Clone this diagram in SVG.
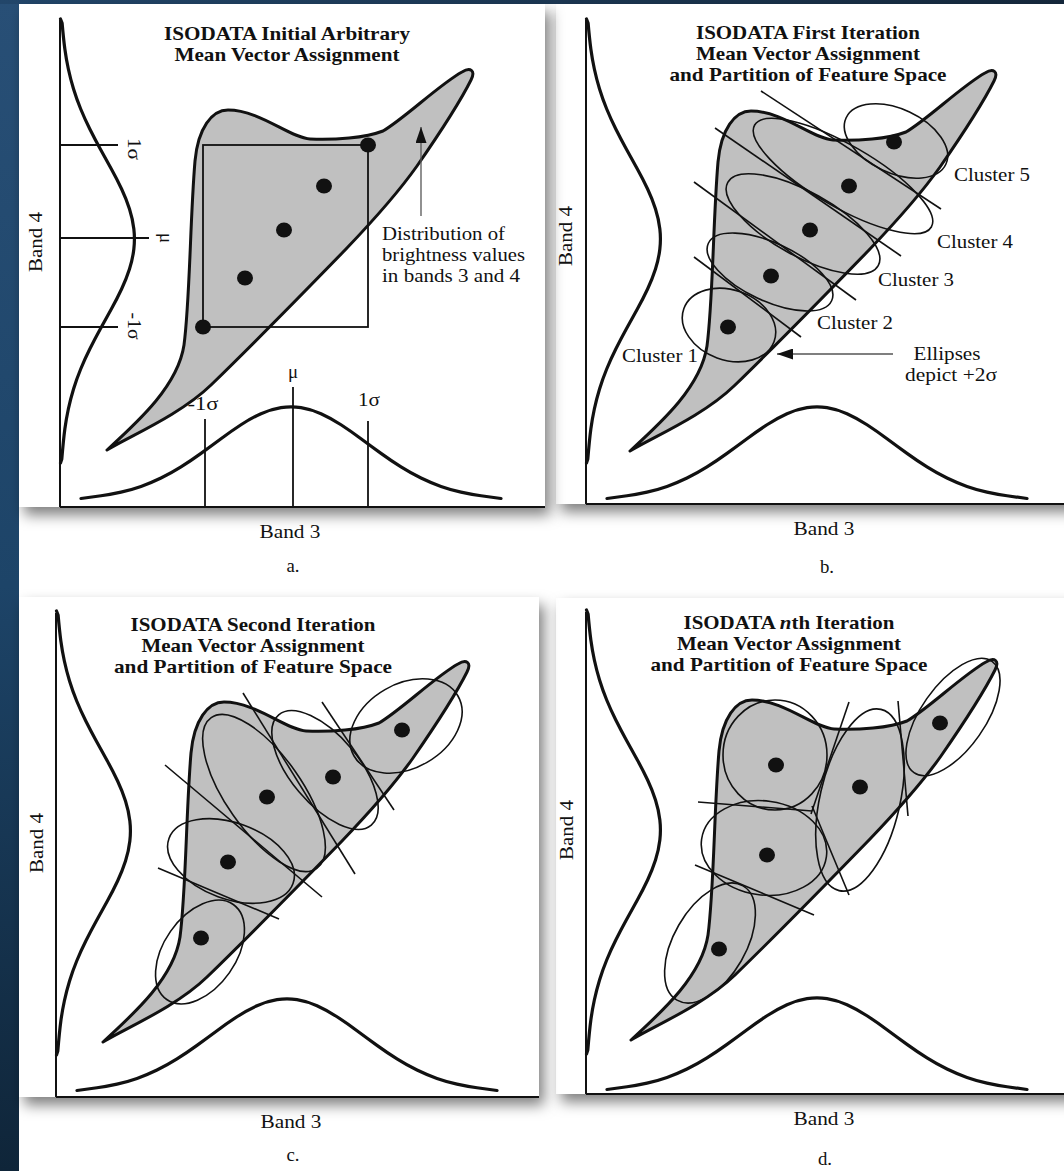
<svg xmlns="http://www.w3.org/2000/svg" width="1064" height="1171" viewBox="0 0 1064 1171">
<defs>
  <linearGradient id="strip" x1="0" y1="0" x2="0" y2="1">
    <stop offset="0" stop-color="#284f76"/>
    <stop offset="0.5" stop-color="#1d4468"/>
    <stop offset="1" stop-color="#0f2539"/>
  </linearGradient>
  <linearGradient id="topstrip" x1="0" y1="0" x2="1" y2="0">
    <stop offset="0" stop-color="#22466a"/>
    <stop offset="1" stop-color="#15283c"/>
  </linearGradient>
  <filter id="shadow" x="-10%" y="-10%" width="125%" height="125%">
    <feDropShadow dx="5" dy="8" stdDeviation="7" flood-color="#000" flood-opacity="0.5"/>
  </filter>
  <marker id="ah" viewBox="0 0 16 11" refX="16" refY="5.5" markerWidth="16" markerHeight="11" markerUnits="userSpaceOnUse" orient="auto">
    <path d="M0,0 L16,5.5 L0,11 Z" fill="#111"/>
  </marker>
  <path id="blob" class="blob" d="M107,450 C130,436 180,415 211,385 C245,352 312,284 346,249 C368,226 400,190 417,166 C435,140 460,102 471,80 C476,70 470,67 462,72 C440,84 405,118 383,131 C365,138 335,140 310,139 C290,138 260,110 228,110 C212,110 198,128 195,161 C190,220 190,300 184,345 C178,385 140,420 107,450 Z"/>
  <path id="bellL" class="bell" d="M60.5,19 L62.1,23 Q63.5,39 64.85,49 Q66.2,59 68.35,69 Q70.5,79 73.55,89 Q76.6,99 80.7,109 Q84.8,119 89.8,129 Q94.8,139 100.3,149 Q105.8,159 111.35,169 Q116.9,179 121.6,189 Q126.3,199 129.5,209 Q132.7,219 133.85,229 Q135,239 133.85,249 Q132.7,259 129.5,269 Q126.3,279 121.6,289 Q116.9,299 111.35,309 Q105.8,319 100.3,329 Q94.8,339 89.8,349 Q84.8,359 80.7,369 Q76.6,379 73.55,389 Q70.5,399 68.35,409 Q66.2,419 64.85,429 Q63.5,439 61.8,459 L60.5,463"/>
  <path id="bellB" class="bell" d="M81,498.5 Q91,497.1 101,495.75 Q111,494.4 121,492.15 Q131,489.9 141,486.4 Q151,482.9 161,478 Q171,473.1 181,466.85 Q191,460.6 201,453.35 Q211,446.1 221,438.7 Q231,431.3 241,424.75 Q251,418.2 261,413.7 Q271,409.2 281,407.6 Q291,406 301,407.6 Q311,409.2 321,413.7 Q331,418.2 341,424.75 Q351,431.3 361,438.7 Q371,446.1 381,453.35 Q391,460.6 401,466.85 Q411,473.1 421,478 Q431,482.9 441,486.4 Q451,489.9 461,492.15 Q471,494.4 481,495.75 Q491,497.1 501,498.5"/>
</defs>
<style>
  .ax{stroke:#111;stroke-width:2;fill:none}
  .tick{stroke:#111;stroke-width:1.8;fill:none}
  .bell{stroke:#111;stroke-width:3.2;fill:none;stroke-linecap:round;stroke-linejoin:round}
  .blob{fill:#c0c0c0;stroke:#111;stroke-width:3;stroke-linejoin:round}
  .ell{fill:none;stroke:#111;stroke-width:1.6}
  .sep{stroke:#111;stroke-width:1.6;fill:none}
  .dot{fill:#111}
  .panel{fill:#fff;filter:url(#shadow)}
  .conn{stroke:#555;stroke-width:1.3;fill:none}
  text{font-family:"Liberation Serif","Times New Roman",serif;fill:#111;font-size:18.8px}
  .title{font-weight:bold;text-anchor:middle}
  .mid{text-anchor:middle}
</style>

<g id="background">
  <rect x="0" y="0" width="1064" height="1171" fill="#fff"/>
  <rect x="0" y="0" width="19" height="1171" fill="url(#strip)"/>
  <rect x="0" y="0" width="1064" height="4" fill="url(#topstrip)"/>
</g>

<g id="panel-frames">
  <rect class="panel" x="556" y="4" width="530" height="500"/>
  <rect class="panel" x="556" y="598" width="530" height="496"/>
  <rect class="panel" x="19" y="4" width="526" height="503"/>
  <rect class="panel" x="19" y="597" width="520" height="500"/>
</g>

<g id="panel-a">
  <use href="#blob"/>
  <rect x="203" y="145" width="165" height="182" class="tick"/>
  <g id="a-axes">
    <line class="ax" x1="60" y1="20" x2="60" y2="507"/>
    <line class="ax" x1="60" y1="507" x2="545" y2="507"/>
    <use href="#bellL"/>
    <use href="#bellB"/>
    <line class="tick" x1="60" y1="145" x2="118" y2="145"/>
    <line class="tick" x1="60" y1="238" x2="149" y2="238"/>
    <line class="tick" x1="60" y1="327" x2="118" y2="327"/>
    <line class="tick" x1="205" y1="419" x2="205" y2="507"/>
    <line class="tick" x1="293" y1="387" x2="293" y2="507"/>
    <line class="tick" x1="368" y1="421" x2="368" y2="507"/>
  </g>
  <g id="a-dots">
    <ellipse class="dot" cx="203" cy="327" rx="8" ry="7.5"/>
    <ellipse class="dot" cx="245" cy="278" rx="8" ry="7.5"/>
    <ellipse class="dot" cx="284" cy="230" rx="8" ry="7.5"/>
    <ellipse class="dot" cx="324" cy="186" rx="8" ry="7.5"/>
    <ellipse class="dot" cx="368" cy="145" rx="8" ry="7.5"/>
  </g>
  <g id="a-labels">
    <text class="title" x="287" y="40" textLength="246" lengthAdjust="spacingAndGlyphs">ISODATA Initial Arbitrary</text>
    <text class="title" x="287" y="61" textLength="225" lengthAdjust="spacingAndGlyphs">Mean Vector Assignment</text>
    <text class="mid" transform="translate(42,242) rotate(-90)" textLength="60" lengthAdjust="spacingAndGlyphs">Band 4</text>
    <text class="mid" x="290" y="538" textLength="61" lengthAdjust="spacingAndGlyphs">Band 3</text>
    <text class="mid" x="293" y="572">a.</text>
    <text class="mid" transform="translate(128,149) rotate(90)" textLength="22" lengthAdjust="spacingAndGlyphs">1σ</text>
    <text class="mid" transform="translate(160,238) rotate(90)">μ</text>
    <text class="mid" transform="translate(128,326) rotate(90)" textLength="27" lengthAdjust="spacingAndGlyphs">-1σ</text>
    <text class="mid" x="203" y="410" textLength="31" lengthAdjust="spacingAndGlyphs">-1σ</text>
    <text class="mid" x="293" y="378">μ</text>
    <text class="mid" x="369" y="406" textLength="22" lengthAdjust="spacingAndGlyphs">1σ</text>
    <text x="382" y="240" textLength="123" lengthAdjust="spacingAndGlyphs">Distribution of</text>
    <text x="382" y="261" textLength="143" lengthAdjust="spacingAndGlyphs">brightness values</text>
    <text x="382" y="282" textLength="138" lengthAdjust="spacingAndGlyphs">in bands 3 and 4</text>
  </g>
</g>

<g id="panel-b">
  <use href="#blob" transform="translate(523,1)"/>
  <g id="b-axes">
    <line class="ax" x1="586" y1="20" x2="586" y2="504"/>
    <line class="ax" x1="586" y1="504" x2="1064" y2="504"/>
    <use href="#bellL" transform="translate(526,0)"/>
    <use href="#bellB" transform="translate(526,0)"/>
  </g>
  <g id="b-clusters">
    <ellipse class="ell" cx="729" cy="325" rx="48" ry="35" transform="rotate(20 729 325)"/>
    <ellipse class="ell" cx="770" cy="272" rx="68" ry="29" transform="rotate(25 770 272)"/>
    <ellipse class="ell" cx="803" cy="224" rx="86" ry="32" transform="rotate(29 803 224)"/>
    <ellipse class="ell" cx="843" cy="176" rx="102" ry="31" transform="rotate(30 843 176)"/>
    <ellipse class="ell" cx="896" cy="141" rx="55" ry="32" transform="rotate(25 896 141)"/>
    <line class="sep" x1="761" y1="91" x2="941" y2="209"/>
    <line class="sep" x1="715" y1="128" x2="901" y2="256"/>
    <line class="sep" x1="694" y1="182" x2="856" y2="300"/>
    <line class="sep" x1="694" y1="257" x2="801" y2="337"/>
    <ellipse class="dot" cx="728" cy="327" rx="8" ry="7.5"/>
    <ellipse class="dot" cx="771" cy="276" rx="8" ry="7.5"/>
    <ellipse class="dot" cx="810" cy="230" rx="8" ry="7.5"/>
    <ellipse class="dot" cx="849" cy="186" rx="8" ry="7.5"/>
    <ellipse class="dot" cx="894" cy="142" rx="8" ry="7.5"/>
  </g>
  <g id="b-labels">
    <text class="title" x="808" y="39" textLength="224" lengthAdjust="spacingAndGlyphs">ISODATA First Iteration</text>
    <text class="title" x="808" y="60" textLength="224" lengthAdjust="spacingAndGlyphs">Mean Vector Assignment</text>
    <text class="title" x="808" y="81" textLength="277" lengthAdjust="spacingAndGlyphs">and Partition of Feature Space</text>
    <text x="954" y="181" textLength="76" lengthAdjust="spacingAndGlyphs">Cluster 5</text>
    <text x="937" y="248" textLength="76" lengthAdjust="spacingAndGlyphs">Cluster 4</text>
    <text x="878" y="286" textLength="76" lengthAdjust="spacingAndGlyphs">Cluster 3</text>
    <text x="817" y="329" textLength="76" lengthAdjust="spacingAndGlyphs">Cluster 2</text>
    <text x="622" y="362" textLength="76" lengthAdjust="spacingAndGlyphs">Cluster 1</text>
    <text class="mid" x="947" y="360" textLength="67" lengthAdjust="spacingAndGlyphs">Ellipses</text>
    <text class="mid" x="951" y="381" textLength="92" lengthAdjust="spacingAndGlyphs">depict +2σ</text>
    <text class="mid" transform="translate(572,236) rotate(-90)" textLength="60" lengthAdjust="spacingAndGlyphs">Band 4</text>
    <text class="mid" x="824" y="535" textLength="61" lengthAdjust="spacingAndGlyphs">Band 3</text>
    <text class="mid" x="827" y="573">b.</text>
  </g>
</g>

<g id="panel-c">
  <use href="#blob" transform="translate(-4,592)"/>
  <g id="c-axes">
    <line class="ax" x1="56" y1="613" x2="56" y2="1097"/>
    <line class="ax" x1="56" y1="1097" x2="539" y2="1097"/>
    <use href="#bellL" transform="translate(-4,592)"/>
    <use href="#bellB" transform="translate(-4,592)"/>
  </g>
  <g id="c-clusters">
    <ellipse class="ell" cx="200" cy="952" rx="58" ry="36" transform="rotate(-55 200 952)"/>
    <ellipse class="ell" cx="231" cy="861" rx="66" ry="38" transform="rotate(20 231 861)"/>
    <ellipse class="ell" cx="264" cy="793" rx="92" ry="38" transform="rotate(55 264 793)"/>
    <ellipse class="ell" cx="325" cy="770" rx="72" ry="34" transform="rotate(50 325 770)"/>
    <ellipse class="ell" cx="406" cy="726" rx="60" ry="42" transform="rotate(-30 406 726)"/>
    <line class="sep" x1="165" y1="765" x2="322" y2="897"/>
    <line class="sep" x1="158" y1="868" x2="279" y2="919"/>
    <line class="sep" x1="243" y1="693" x2="355" y2="874"/>
    <line class="sep" x1="322" y1="702" x2="394" y2="810"/>
    <ellipse class="dot" cx="402" cy="730" rx="8" ry="7.5"/>
    <ellipse class="dot" cx="333" cy="777" rx="8" ry="7.5"/>
    <ellipse class="dot" cx="267" cy="797" rx="8" ry="7.5"/>
    <ellipse class="dot" cx="228" cy="862" rx="8" ry="7.5"/>
    <ellipse class="dot" cx="201" cy="938" rx="8" ry="7.5"/>
  </g>
  <g id="c-labels">
    <text class="title" x="253" y="631" textLength="245" lengthAdjust="spacingAndGlyphs">ISODATA Second Iteration</text>
    <text class="title" x="253" y="652" textLength="223" lengthAdjust="spacingAndGlyphs">Mean Vector Assignment</text>
    <text class="title" x="253" y="673" textLength="278" lengthAdjust="spacingAndGlyphs">and Partition of Feature Space</text>
    <text class="mid" transform="translate(43,843) rotate(-90)" textLength="60" lengthAdjust="spacingAndGlyphs">Band 4</text>
    <text class="mid" x="291" y="1128" textLength="61" lengthAdjust="spacingAndGlyphs">Band 3</text>
    <text class="mid" x="293" y="1161">c.</text>
  </g>
</g>

<g id="panel-d">
  <use href="#blob" transform="translate(524,590)"/>
  <g id="d-axes">
    <line class="ax" x1="586" y1="612" x2="586" y2="1094"/>
    <line class="ax" x1="586" y1="1094" x2="1064" y2="1094"/>
    <use href="#bellL" transform="translate(526,591)"/>
    <use href="#bellB" transform="translate(526,591)"/>
  </g>
  <g id="d-clusters">
    <ellipse class="ell" cx="710" cy="943" rx="66" ry="36" transform="rotate(-60 710 943)"/>
    <ellipse class="ell" cx="764" cy="848" rx="63" ry="47" transform="rotate(8 764 848)"/>
    <ellipse class="ell" cx="775" cy="755" rx="52" ry="55"/>
    <ellipse class="ell" cx="860" cy="800" rx="40" ry="93" transform="rotate(13 860 800)"/>
    <ellipse class="ell" cx="953" cy="717" rx="68" ry="32" transform="rotate(-55 953 717)"/>
    <line class="sep" x1="698" y1="802" x2="812" y2="811"/>
    <line class="sep" x1="695" y1="865" x2="814" y2="915"/>
    <line class="sep" x1="849" y1="702" x2="811" y2="814"/>
    <line class="sep" x1="812" y1="806" x2="849" y2="895"/>
    <line class="sep" x1="898" y1="701" x2="908" y2="816"/>
    <ellipse class="dot" cx="940" cy="723" rx="8" ry="7.5"/>
    <ellipse class="dot" cx="860" cy="787" rx="8" ry="7.5"/>
    <ellipse class="dot" cx="776" cy="765" rx="8" ry="7.5"/>
    <ellipse class="dot" cx="767" cy="855" rx="8" ry="7.5"/>
    <ellipse class="dot" cx="719" cy="949" rx="8" ry="7.5"/>
  </g>
  <g id="d-labels">
    <text class="title" x="789" y="629" textLength="211" lengthAdjust="spacingAndGlyphs">ISODATA <tspan font-style="italic">n</tspan>th Iteration</text>
    <text class="title" x="789" y="650" textLength="224" lengthAdjust="spacingAndGlyphs">Mean Vector Assignment</text>
    <text class="title" x="789" y="671" textLength="277" lengthAdjust="spacingAndGlyphs">and Partition of Feature Space</text>
    <text class="mid" transform="translate(573,830) rotate(-90)" textLength="60" lengthAdjust="spacingAndGlyphs">Band 4</text>
    <text class="mid" x="824" y="1125" textLength="61" lengthAdjust="spacingAndGlyphs">Band 3</text>
    <text class="mid" x="825" y="1165">d.</text>
  </g>
</g>

<g id="connectors">
  <line class="conn" x1="421" y1="216" x2="421" y2="127" marker-end="url(#ah)"/>
  <line class="conn" x1="893" y1="354" x2="777" y2="354" marker-end="url(#ah)"/>
</g>
</svg>
